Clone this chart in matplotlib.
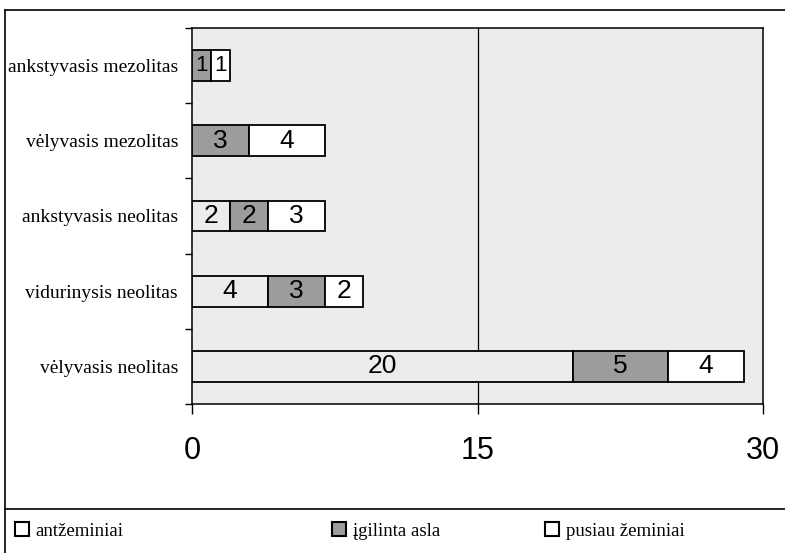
import numpy as np
import matplotlib.pyplot as plt
from matplotlib.patches import Patch
from matplotlib.lines import Line2D

periods = ["ankstyvasis mezolitas", "vėlyvasis mezolitas", "ankstyvasis neolitas",
           "vidurinysis neolitas", "vėlyvasis neolitas"]
antzeminiai = [0, 0, 2, 4, 20]
igilinta = [1, 3, 2, 3, 5]
pusiau = [1, 4, 3, 2, 4]
series_names = ["antžeminiai", "įgilinta asla", "pusiau žeminiai"]
xticks = [0, 15, 30]

serif = "Liberation Serif"
sans = "Liberation Sans"
bg = "#ececec"
grey = "#9c9c9c"

fig = plt.figure(figsize=(7.85, 5.53), dpi=100)
ax = fig.add_axes([192 / 785, 1 - 404 / 553, 571 / 785, 376 / 553])
ax.set_facecolor(bg)

y = np.arange(len(periods))
h = 0.41
series = [antzeminiai, igilinta, pusiau]
colors = [bg, grey, "white"]
left = np.zeros(len(periods))
for vals, col in zip(series, colors):
    vals = np.array(vals, dtype=float)
    bars = ax.barh(y, vals, left=left, height=h, color=col, edgecolor="black", linewidth=1.3, zorder=3)
    for b, v in zip(bars, vals):
        if v > 0:
            ax.text(b.get_x() + b.get_width() / 2, b.get_y() + b.get_height() / 2, f"{int(v)}",
                    ha="center", va="center", fontsize=19 if v > 1 else 16, family=sans, zorder=4)
    left += vals

ax.axvline(15, color="black", linewidth=0.9, zorder=1)
ax.set_xlim(0, 30)
ax.set_ylim(len(periods) - 0.5, -0.5)
ax.set_xticks(xticks)
ax.set_xticklabels([str(t) for t in xticks], family=sans, fontsize=22)
ax.tick_params(axis="x", length=7, width=1, pad=16)
ax.set_yticks(y)
ax.set_yticklabels(periods, family=serif, fontsize=14)
ax.set_yticks(np.arange(-0.5, len(periods), 1.0), minor=True)
ax.tick_params(axis="y", which="major", length=0, pad=10)
ax.tick_params(axis="y", which="minor", length=5, width=1)
for s in ax.spines.values():
    s.set_linewidth(1.1)

# outer frame and legend separator
fig.add_artist(Line2D([5 / 785, 1], [1 - 10 / 553, 1 - 10 / 553], color="black", linewidth=1.2))
fig.add_artist(Line2D([5 / 785, 5 / 785], [0, 1 - 10 / 553], color="black", linewidth=1.2))
fig.add_artist(Line2D([5 / 785, 1], [1 - 509 / 553, 1 - 509 / 553], color="black", linewidth=1.2))

leg_x = [15 / 785, 332 / 785, 545 / 785]
for name, col, lx in zip(series_names, ["white", grey, "white"], leg_x):
    leg = fig.legend([Patch(facecolor=col, edgecolor="black", linewidth=1.5)], [name],
                     loc="center left", bbox_to_anchor=(lx, 1 - 531 / 553), frameon=False,
                     prop={"family": serif, "size": 13.5}, handlelength=0.75, handleheight=0.75,
                     handletextpad=0.35, borderpad=0, borderaxespad=0)

fig.savefig("out.png", dpi=100)
